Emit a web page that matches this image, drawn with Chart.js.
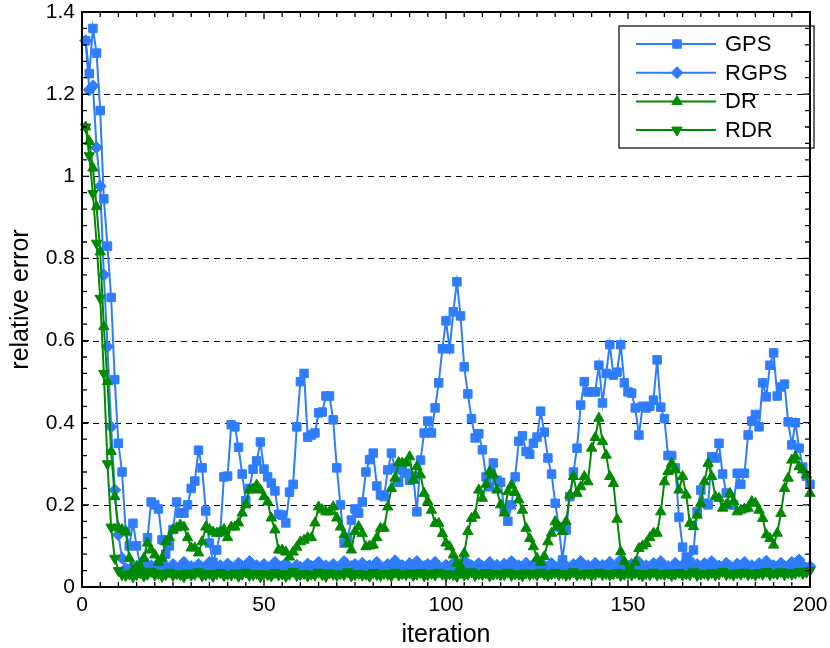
<!DOCTYPE html>
<html>
<head>
<meta charset="utf-8">
<title>relative error vs iteration</title>
<script src="https://cdn.jsdelivr.net/npm/chart.js@4.4.0/dist/chart.umd.min.js"></script>
<style>
  html, body { margin: 0; padding: 0; background: #fff; }
  #wrap { width: 830px; height: 648px; }
</style>
</head>
<body>
<div id="wrap"><canvas id="chart" width="830" height="648"></canvas></div>
<script>
// iterations 1..200 on the x axis
const iterations = Array.from({ length: 200 }, (_, k) => k + 1);
const xTicks = [0, 50, 100, 150, 200];
const yTicks = [0, 0.2, 0.4, 0.6, 0.8, 1, 1.2, 1.4];

const gps = [
  1.33, 1.25, 1.36, 1.30, 1.16, 0.945, 0.83, 0.705, 0.505, 0.35,
  0.28, 0.135, 0.10, 0.155, 0.10, 0.05, 0.06, 0.12, 0.207, 0.20,
  0.19, 0.115, 0.08, 0.10, 0.14, 0.207, 0.18, 0.18, 0.20, 0.24,
  0.258, 0.333, 0.29, 0.185, 0.107, 0.06, 0.09, 0.134, 0.268, 0.27,
  0.395, 0.39, 0.34, 0.275, 0.21, 0.24, 0.287, 0.307, 0.353, 0.287,
  0.268, 0.253, 0.234, 0.177, 0.175, 0.156, 0.231, 0.25, 0.39, 0.50,
  0.52, 0.365, 0.37, 0.375, 0.424, 0.426, 0.465, 0.465, 0.407, 0.29,
  0.20, 0.107, 0.12, 0.163, 0.19, 0.18, 0.207, 0.28, 0.31, 0.326,
  0.246, 0.224, 0.22, 0.285, 0.326, 0.29, 0.255, 0.285, 0.277, 0.26,
  0.27, 0.183, 0.309, 0.375, 0.404, 0.375, 0.436, 0.497, 0.58, 0.648,
  0.58, 0.67, 0.743, 0.66, 0.536, 0.47, 0.41, 0.363, 0.373, 0.334,
  0.268, 0.244, 0.302, 0.26, 0.255, 0.19, 0.16, 0.20, 0.268, 0.355,
  0.368, 0.33, 0.323, 0.35, 0.365, 0.428, 0.377, 0.314, 0.275, 0.204,
  0.146, 0.066, 0.139, 0.22, 0.28, 0.338, 0.443, 0.50, 0.475, 0.475,
  0.475, 0.54, 0.448, 0.52, 0.59, 0.516, 0.523, 0.59, 0.497, 0.475,
  0.472, 0.436, 0.37, 0.44, 0.436, 0.44, 0.455, 0.553, 0.438, 0.41,
  0.32, 0.32, 0.29, 0.17, 0.097, 0.073, 0.06, 0.09, 0.183, 0.236,
  0.204, 0.20, 0.317, 0.314, 0.35, 0.275, 0.229, 0.20, 0.20, 0.277,
  0.25, 0.277, 0.37, 0.404, 0.42, 0.39, 0.497, 0.463, 0.54, 0.57,
  0.465, 0.487, 0.494, 0.402, 0.346, 0.40, 0.338, 0.292, 0.27, 0.25
];

const rgps = [
  1.33, 1.21, 1.22, 1.07, 0.976, 0.76, 0.585, 0.39, 0.236, 0.127,
  0.07, 0.045, 0.04, 0.05, 0.038, 0.055, 0.045, 0.04, 0.052, 0.046,
  0.058, 0.042, 0.05, 0.045, 0.055, 0.04, 0.048, 0.06, 0.044, 0.05,
  0.042, 0.055, 0.047, 0.04, 0.06, 0.05, 0.045, 0.052, 0.04, 0.056,
  0.048, 0.043, 0.058, 0.05, 0.045, 0.062, 0.047, 0.052, 0.04, 0.055,
  0.046, 0.05, 0.06, 0.043, 0.05, 0.057, 0.045, 0.04, 0.053, 0.048,
  0.042, 0.056, 0.05, 0.045, 0.06, 0.048, 0.052, 0.043, 0.055, 0.047,
  0.05, 0.062, 0.044, 0.05, 0.055, 0.041, 0.058, 0.047, 0.052, 0.045,
  0.06, 0.048, 0.043, 0.055, 0.05, 0.064, 0.046, 0.052, 0.041, 0.057,
  0.048, 0.062, 0.045, 0.05, 0.055, 0.043, 0.06, 0.049, 0.045, 0.053,
  0.047, 0.058, 0.043, 0.05, 0.066, 0.048, 0.052, 0.044, 0.057, 0.05,
  0.045, 0.06, 0.048, 0.053, 0.042, 0.056, 0.05, 0.062, 0.046, 0.052,
  0.044, 0.058, 0.05, 0.047, 0.063, 0.045, 0.052, 0.049, 0.057, 0.043,
  0.05, 0.06, 0.047, 0.044, 0.055, 0.05, 0.062, 0.046, 0.052, 0.041,
  0.058, 0.049, 0.053, 0.045, 0.06, 0.047, 0.052, 0.066, 0.045, 0.05,
  0.055, 0.043, 0.06, 0.048, 0.052, 0.045, 0.057, 0.05, 0.062, 0.046,
  0.05, 0.044, 0.058, 0.048, 0.053, 0.06, 0.045, 0.05, 0.055, 0.042,
  0.057, 0.049, 0.062, 0.046, 0.051, 0.045, 0.058, 0.05, 0.044, 0.056,
  0.048, 0.06, 0.046, 0.052, 0.043, 0.057, 0.05, 0.063, 0.047, 0.052,
  0.045, 0.058, 0.05, 0.046, 0.06, 0.049, 0.066, 0.052, 0.045, 0.05
];

const dr = [
  1.12, 1.085, 1.02, 0.926, 0.816, 0.634, 0.50, 0.33, 0.22, 0.144,
  0.14, 0.135, 0.07, 0.04, 0.05, 0.05, 0.07, 0.107, 0.09, 0.078,
  0.06, 0.07, 0.11, 0.12, 0.139, 0.144, 0.151, 0.146, 0.12, 0.095,
  0.095, 0.083, 0.11, 0.146, 0.14, 0.134, 0.13, 0.134, 0.14, 0.12,
  0.146, 0.146, 0.156, 0.18, 0.20, 0.236, 0.238, 0.248, 0.236, 0.22,
  0.207, 0.168, 0.139, 0.09, 0.09, 0.085, 0.073, 0.085, 0.097, 0.11,
  0.114, 0.12, 0.12, 0.156, 0.195, 0.188, 0.183, 0.183, 0.195, 0.168,
  0.146, 0.127, 0.107, 0.09, 0.135, 0.147, 0.13, 0.098, 0.10, 0.102,
  0.12, 0.143, 0.143, 0.195, 0.24, 0.265, 0.303, 0.302, 0.302, 0.317,
  0.26, 0.293, 0.273, 0.228, 0.208, 0.187, 0.155, 0.155, 0.13, 0.107,
  0.098, 0.078, 0.058, 0.05, 0.082, 0.135, 0.167, 0.175, 0.236, 0.216,
  0.25, 0.281, 0.273, 0.236, 0.20, 0.18, 0.232, 0.248, 0.23, 0.212,
  0.187, 0.143, 0.118, 0.098, 0.07, 0.06, 0.074, 0.11, 0.131, 0.159,
  0.147, 0.135, 0.159, 0.224, 0.269, 0.228, 0.244, 0.269, 0.256, 0.338,
  0.364, 0.411, 0.354, 0.321, 0.269, 0.252, 0.165, 0.086, 0.062, 0.04,
  0.04, 0.06, 0.094, 0.10, 0.106, 0.12, 0.131, 0.131, 0.183, 0.256,
  0.281, 0.301, 0.285, 0.236, 0.269, 0.224, 0.155, 0.147, 0.175, 0.204,
  0.256, 0.301, 0.269, 0.22, 0.216, 0.192, 0.20, 0.228, 0.208, 0.183,
  0.187, 0.19, 0.192, 0.208, 0.204, 0.187, 0.167, 0.127, 0.118, 0.102,
  0.131, 0.179, 0.24, 0.265, 0.309, 0.317, 0.293, 0.285, 0.273, 0.228
];

const rdr = [
  1.12, 1.05, 0.958, 0.837, 0.703, 0.52, 0.30, 0.146, 0.07, 0.04,
  0.03, 0.028, 0.032, 0.025, 0.03, 0.035, 0.027, 0.031, 0.038, 0.029,
  0.033, 0.026, 0.03, 0.036, 0.028, 0.032, 0.03, 0.025, 0.034, 0.029,
  0.031, 0.037, 0.027, 0.03, 0.033, 0.026, 0.032, 0.035, 0.028, 0.031,
  0.029, 0.034, 0.026, 0.031, 0.036, 0.028, 0.03, 0.033, 0.025, 0.032,
  0.03, 0.027, 0.035, 0.029, 0.032, 0.026, 0.031, 0.038, 0.028, 0.03,
  0.033, 0.027, 0.031, 0.029, 0.036, 0.03, 0.026, 0.034, 0.031, 0.028,
  0.032, 0.03, 0.037, 0.027, 0.03, 0.033, 0.029, 0.031, 0.026, 0.035,
  0.03, 0.028, 0.033, 0.031, 0.027, 0.036, 0.029, 0.032, 0.03, 0.034,
  0.028, 0.031, 0.035, 0.027, 0.03, 0.033, 0.029, 0.036, 0.031, 0.028,
  0.032, 0.03, 0.026, 0.034, 0.029, 0.031, 0.037, 0.028, 0.032, 0.03,
  0.035, 0.027, 0.031, 0.033, 0.029, 0.03, 0.036, 0.028, 0.032, 0.031,
  0.027, 0.034, 0.03, 0.033, 0.029, 0.036, 0.031, 0.028, 0.032, 0.035,
  0.03, 0.033, 0.028, 0.031, 0.037, 0.029, 0.032, 0.03, 0.034, 0.028,
  0.031, 0.036, 0.03, 0.033, 0.029, 0.032, 0.035, 0.028, 0.031, 0.033,
  0.029, 0.034, 0.031, 0.027, 0.033, 0.03, 0.036, 0.029, 0.032, 0.03,
  0.034, 0.028, 0.031, 0.035, 0.029, 0.032, 0.03, 0.037, 0.028, 0.031,
  0.033, 0.03, 0.035, 0.029, 0.032, 0.038, 0.03, 0.033, 0.029, 0.034,
  0.031, 0.036, 0.03, 0.033, 0.029, 0.035, 0.031, 0.038, 0.03, 0.034,
  0.032, 0.037, 0.03, 0.035, 0.031, 0.034, 0.038, 0.033, 0.036, 0.04
];

const BLUE = '#2f7dff';
const GREEN = '#008a00';
const FONT = "'Liberation Sans', Arial, Helvetica, sans-serif";

function points(values) {
  return values.map((v, k) => ({ x: iterations[k], y: v }));
}

function series(label, values, color, style, rotation, order) {
  return {
    label: label,
    data: points(values),
    borderColor: color,
    backgroundColor: color,
    borderWidth: 2,
    pointStyle: style,
    pointRotation: rotation,
    pointRadius: 6,
    pointBorderWidth: 1,
    pointBackgroundColor: color,
    pointBorderColor: color,
    tension: 0,
    clip: false,
    order: order,
  };
}

// dashed grid, inward ticks on all four sides, box and legend
const framePlugin = {
  id: 'frame',
  beforeDatasetsDraw(chart) {
    const { ctx, chartArea: a, scales: { y } } = chart;
    ctx.save();
    ctx.strokeStyle = '#000';
    ctx.lineWidth = 1;
    ctx.setLineDash([6, 5]);
    yTicks.forEach(v => {
      if (v <= 0 || v >= 1.4) return;
      const py = Math.round(y.getPixelForValue(v)) + 0.5;
      ctx.beginPath();
      ctx.moveTo(a.left, py);
      ctx.lineTo(a.right, py);
      ctx.stroke();
    });
    ctx.restore();
  },
  afterDraw(chart) {
    const { ctx, chartArea: a, scales: { x, y } } = chart;
    ctx.save();
    ctx.strokeStyle = '#000';
    ctx.lineWidth = 1.3;
    for (let k = 0; k <= 40; k++) {
      const v = k * 5;
      const px = x.getPixelForValue(v);
      const len = v % 50 === 0 ? 7 : 5;
      ctx.beginPath();
      ctx.moveTo(px, a.bottom); ctx.lineTo(px, a.bottom - len);
      ctx.moveTo(px, a.top); ctx.lineTo(px, a.top + len);
      ctx.stroke();
    }
    for (let k = 0; k <= 35; k++) {
      const py = y.getPixelForValue(k * 0.04);
      const len = k % 5 === 0 ? 7 : 5;
      ctx.beginPath();
      ctx.moveTo(a.left, py); ctx.lineTo(a.left + len, py);
      ctx.moveTo(a.right, py); ctx.lineTo(a.right - len, py);
      ctx.stroke();
    }
    ctx.lineWidth = 2;
    ctx.strokeRect(a.left, a.top, a.right - a.left, a.bottom - a.top);

    // legend
    const box = { left: a.left + 537, top: a.top + 14, width: 195, height: 122 };
    ctx.lineWidth = 1.2;
    ctx.strokeRect(box.left, box.top, box.width, box.height);
    ctx.font = '22px ' + FONT;
    ctx.textBaseline = 'middle';
    ctx.textAlign = 'left';
    chart.data.datasets.forEach((ds, i) => {
      const cy = box.top + 18 + i * 28.7;
      ctx.strokeStyle = ds.borderColor;
      ctx.fillStyle = ds.backgroundColor;
      ctx.lineWidth = ds.borderWidth;
      ctx.beginPath();
      ctx.moveTo(box.left + 17, cy);
      ctx.lineTo(box.left + 97, cy);
      ctx.stroke();
      ctx.lineWidth = 1;
      Chart.helpers.drawPoint(ctx, {
        pointStyle: ds.pointStyle,
        radius: ds.pointRadius,
        rotation: ds.pointRotation,
        borderWidth: 1,
      }, box.left + 58, cy);
      ctx.fillStyle = '#000';
      ctx.fillText(ds.label, box.left + 106, cy + 1);
    });
    ctx.restore();
  }
};

Chart.defaults.font.family = FONT;
Chart.defaults.color = '#000';

new Chart(document.getElementById('chart'), {
  type: 'line',
  data: {
    datasets: [
      series('GPS', gps, BLUE, 'rect', 0, 4),
      series('RGPS', rgps, BLUE, 'rectRot', 0, 3),
      series('DR', dr, GREEN, 'triangle', 0, 2),
      series('RDR', rdr, GREEN, 'triangle', 180, 1),
    ]
  },
  options: {
    responsive: false,
    animation: false,
    layout: { padding: { top: 12, right: 20, left: 0, bottom: 0 } },
    plugins: { legend: { display: false }, tooltip: { enabled: false } },
    scales: {
      x: {
        type: 'linear',
        min: 0,
        max: 200,
        afterBuildTicks: s => { s.ticks = xTicks.map(v => ({ value: v })); },
        afterFit: s => { s.height = 61; s.paddingLeft = 0; s.paddingRight = 0; },
        grid: { display: false, drawTicks: false },
        border: { display: false },
        ticks: { padding: 6, maxRotation: 0, font: { size: 21 } },
        title: { display: true, text: 'iteration', font: { size: 25, lineHeight: 1 }, padding: { top: 0, bottom: 0 } }
      },
      y: {
        type: 'linear',
        min: 0,
        max: 1.4,
        afterBuildTicks: s => { s.ticks = yTicks.map(v => ({ value: v })); },
        afterFit: s => { s.width = 82; s.paddingTop = 0; s.paddingBottom = 0; },
        grid: { display: false, drawTicks: false },
        border: { display: false },
        ticks: {
          padding: 7,
          font: { size: 21 },
          callback: v => String(Math.round(v * 10) / 10)
        },
        title: { display: true, text: 'relative error', font: { size: 25 }, padding: { top: 6, bottom: 0 } }
      }
    }
  },
  plugins: [framePlugin]
});
</script>
</body>
</html>
